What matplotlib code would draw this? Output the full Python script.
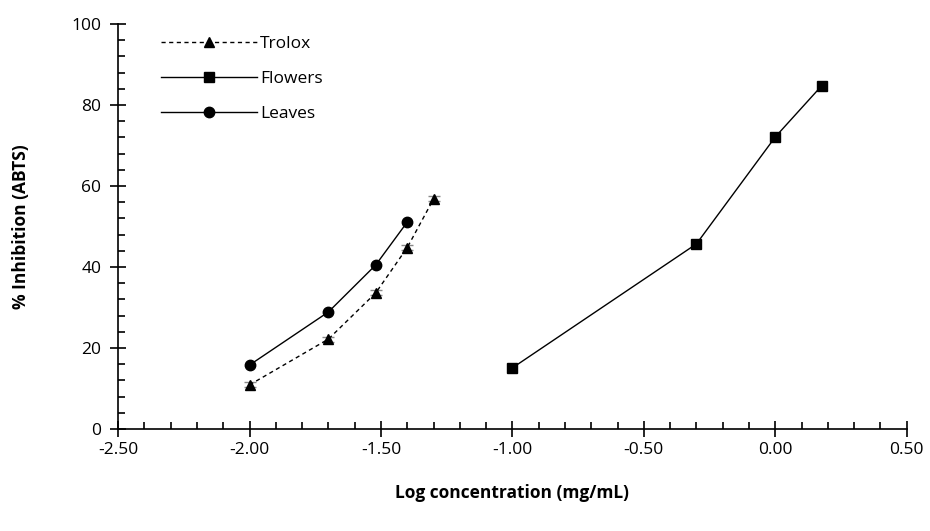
import matplotlib.pyplot as plt
from matplotlib.ticker import MultipleLocator, FormatStrFormatter

# Data (log concentration, % inhibition)
trolox_x = [-2.00, -1.70, -1.52, -1.40, -1.30]
trolox_y = [10.9, 22.2, 33.6, 44.8, 56.8]
trolox_err = [0.6, 0.6, 0.6, 0.6, 0.6]

flowers_x = [-1.00, -0.30, 0.00, 0.176]
flowers_y = [15.1, 45.7, 72.1, 84.7]

leaves_x = [-2.00, -1.70, -1.52, -1.40]
leaves_y = [15.8, 28.9, 40.5, 51.1]

plt.rcParams['font.family'] = ['Open Sans', 'DejaVu Sans']
fig = plt.figure(figsize=(9.3, 5.31), dpi=100)
ax = fig.add_axes([0.127, 0.192, 0.848, 0.763])

ax.errorbar(trolox_x, trolox_y, yerr=trolox_err, fmt='none', ecolor='#888888',
            elinewidth=0.8, capsize=4, zorder=2)
ax.plot(trolox_x, trolox_y, color='black', linestyle=(0, (3, 2.5)), linewidth=1,
        marker='^', markersize=7, label='Trolox', zorder=3)
ax.plot(flowers_x, flowers_y, color='black', linestyle='-', linewidth=1,
        marker='s', markersize=7.5, label='Flowers', zorder=3)
ax.plot(leaves_x, leaves_y, color='black', linestyle='-', linewidth=1,
        marker='o', markersize=7.5, label='Leaves', zorder=3)

ax.set_xlim(-2.5, 0.5)
ax.set_ylim(0, 100)
ax.xaxis.set_major_locator(MultipleLocator(0.5))
ax.xaxis.set_minor_locator(MultipleLocator(0.1))
ax.yaxis.set_major_locator(MultipleLocator(20))
ax.yaxis.set_minor_locator(MultipleLocator(4))
ax.xaxis.set_major_formatter(FormatStrFormatter('%.2f'))

for s in ['top', 'right']:
    ax.spines[s].set_visible(False)
for s in ['left', 'bottom']:
    ax.spines[s].set_linewidth(1.2)

ax.tick_params(which='major', direction='inout', length=12, width=1.2, labelsize=12.5,
               colors='black')
ax.tick_params(which='minor', direction='in', length=5, width=1.2)
ax.tick_params(axis='x', which='major', pad=3)
ax.tick_params(axis='y', which='major', pad=6)

ax.set_xlabel('Log concentration (mg/mL)', fontsize=12.5, fontweight='bold')
ax.set_ylabel('% Inhibition (ABTS)', fontsize=12.5, fontweight='bold')
ax.xaxis.set_label_coords(0.5, -0.135)
ax.yaxis.set_label_coords(-0.112, 0.5)

ax.legend(loc='upper left', bbox_to_anchor=(0.035, 1.01), frameon=False, fontsize=12.5,
          handlelength=5.5, handletextpad=0.2, labelspacing=1.1)

fig.savefig('out.png', dpi=100)
